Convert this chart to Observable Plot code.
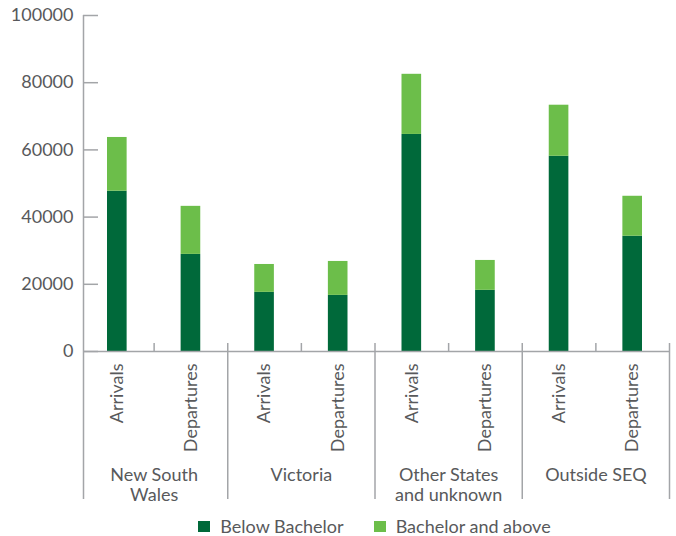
<!DOCTYPE html>
<html>
<head>
<meta charset="utf-8">
<script src="https://cdn.jsdelivr.net/npm/d3@7"></script>
<script src="https://cdn.jsdelivr.net/npm/@observablehq/plot@0.6"></script>
<style>
  html, body { margin: 0; padding: 0; background: #fff; }
  body { font-family: Lato, "Open Sans", sans-serif; color: #58595b; width: 676px; }
  #legend { display: flex; justify-content: center; align-items: center; padding-left: 80px; padding-right: 7px; height: 28px; margin-top: 7px; font-size: 18px; }
  .item { display: flex; align-items: center; margin: 0 15px; }
  .sw { width: 12px; height: 11px; margin-right: 10px; }
</style>
</head>
<body>
<div id="chart"></div>
<div id="legend"></div>
<script>
const regions = ["New South\nWales", "Victoria", "Other States\nand unknown", "Outside SEQ"];
const flows = ["Arrivals", "Departures"];
const series = ["Below Bachelor", "Bachelor and above"];
const belowBachelor = [47700, 28900, 17600, 16700, 64600, 18200, 58100, 34300];
const bachelorAbove = [16000, 14300, 8300, 10100, 17900, 8900, 15200, 11900];
const yTicks = [0, 20000, 40000, 60000, 80000, 100000];
const colors = ["#00693a", "#6cbe4a"];
const axisColor = "#a3a5a8";

// build table
const bars = belowBachelor.map((v, i) => ({
  pos: i,
  region: regions[Math.floor(i / 2)],
  flow: flows[i % 2]
}));
const rows = [];
bars.forEach((b, i) => {
  const vals = [belowBachelor[i], bachelorAbove[i]];
  let acc = 0;
  vals.forEach((v, s) => {
    rows.push({...b, series: series[s], y1: acc, y2: acc + v});
    acc += v;
  });
});
const groups = regions.map((r, g) => ({region: r, pos: 2 * g + 1}));
const innerTicks = groups.map(g => g.pos);
const separators = groups.map(g => g.pos + 1);

const chart = Plot.plot({
  width: 676,
  height: 505,
  marginLeft: 80,
  marginRight: 7,
  marginTop: 15,
  marginBottom: 154,
  style: {fontFamily: "Lato, 'Open Sans', sans-serif", fontSize: "18px", color: "#58595b", background: "#fff"},
  x: {type: "linear", domain: [0, bars.length], axis: null},
  y: {domain: [0, 100000], axis: null},
  color: {domain: series, range: colors},
  marks: [
    Plot.rectY(rows, {x1: "pos", x2: d => d.pos + 1, y1: "y1", y2: "y2", fill: "series", insetLeft: 27, insetRight: 27}),
    Plot.axisY(yTicks, {tickSize: 0, tickPadding: 7, tickFormat: "d", fontSize: 18}),
    Plot.ruleY(yTicks, {x1: 0, x2: 0, dx: 3, insetRight: -15, stroke: axisColor, strokeWidth: 1.5}),
    Plot.ruleY([0], {stroke: axisColor, insetLeft: 3, strokeWidth: 1.5}),
    Plot.ruleX([0], {dx: 3, stroke: axisColor, insetBottom: -148, strokeWidth: 1.5}),
    Plot.ruleX(innerTicks, {stroke: axisColor, insetTop: 328, strokeWidth: 1.5}),
    Plot.ruleX(separators, {stroke: axisColor, insetTop: 328, insetBottom: -148, strokeWidth: 1.5}),
    Plot.text(bars, {x: d => d.pos + 0.5, text: "flow", frameAnchor: "bottom", dy: 12, rotate: -90, textAnchor: "end", lineAnchor: "middle", fontSize: 18, fill: "#58595b"}),
    Plot.text(groups, {x: "pos", text: "region", frameAnchor: "bottom", dy: 115, lineAnchor: "top", lineHeight: 1.11, fontSize: 18, fill: "#58595b"})
  ]
});
document.getElementById("chart").appendChild(chart);

const legend = document.getElementById("legend");
series.forEach((s, i) => {
  const item = document.createElement("div");
  item.className = "item";
  const sw = document.createElement("span");
  sw.className = "sw";
  sw.style.background = colors[i];
  const label = document.createElement("span");
  label.textContent = s;
  item.appendChild(sw);
  item.appendChild(label);
  legend.appendChild(item);
});
</script>
</body>
</html>
